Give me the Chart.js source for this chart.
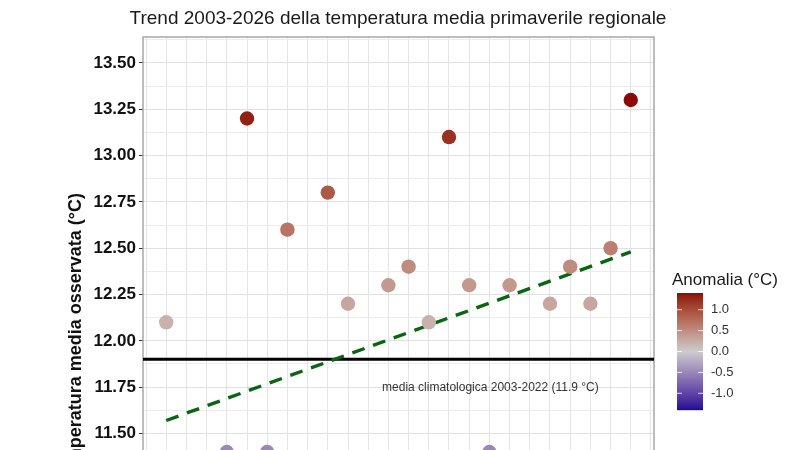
<!DOCTYPE html>
<html>
<head>
<meta charset="utf-8">
<script src="https://cdn.jsdelivr.net/npm/chart.js@4.4.1/dist/chart.umd.min.js"></script>
<style>
html,body{margin:0;padding:0;background:#fff;overflow:hidden;width:800px;height:450px}
#clip{width:800px;height:450px;overflow:hidden;position:relative}
#wrap{width:800px;height:690px;position:absolute;top:0;left:0}
</style>
</head>
<body>
<div id="clip"><div id="wrap"><canvas id="c"></canvas></div></div>
<script>
// ---- data ----
const years = [2003,2004,2005,2006,2007,2008,2009,2010,2011,2012,2013,2014,2015,2016,2017,2018,2019,2020,2021,2022,2023,2024,2025,2026];
const temps = [12.1,10.9,10.5,11.4,13.2,11.4,12.6,11.0,12.8,12.2,10.8,12.3,12.4,12.1,13.1,12.3,11.4,12.3,11.0,12.2,12.4,12.2,12.5,13.3];
const climMean = 11.9;
const trendYears = [2003, 2026];
const trendValues = [11.57, 12.48];
const legendTicks = [1.0, 0.5, 0.0, -0.5, -1.0];
const titleText = 'Trend 2003-2026 della temperatura media primaverile regionale';
const yTitle = 'Temperatura media osservata (°C)';
const annoText = 'media climatologica 2003-2022 (11.9 °C)';
const annoX = 2019.05, annoY = 11.745;
const legendTitle = 'Anomalia (°C)';

const xMin = 2001.85, xMax = 2027.15;
const yMin = 10.385, yMax = 13.64;

// ---- colour scale (gradient2 in Lab) ----
const lowCol = '#1a0c94', midCol = '#cccccc', highCol = '#8b0a05';
function hex2rgb(h){return [parseInt(h.slice(1,3),16),parseInt(h.slice(3,5),16),parseInt(h.slice(5,7),16)];}
function lin(c){c/=255;return c<=0.04045?c/12.92:Math.pow((c+0.055)/1.055,2.4);}
function unlin(c){c=c<=0.0031308?12.92*c:1.055*Math.pow(c,1/2.4)-0.055;return Math.max(0,Math.min(255,Math.round(c*255)));}
function rgb2lab(rgb){
  const r=lin(rgb[0]),g=lin(rgb[1]),b=lin(rgb[2]);
  let X=(0.4124*r+0.3576*g+0.1805*b)/0.95047,Y=(0.2126*r+0.7152*g+0.0722*b),Z=(0.0193*r+0.1192*g+0.9505*b)/1.08883;
  const f=t=>t>0.008856?Math.cbrt(t):7.787*t+16/116;
  const fx=f(X),fy=f(Y),fz=f(Z);
  return [116*fy-16,500*(fx-fy),200*(fy-fz)];
}
function lab2rgb(lab){
  const fy=(lab[0]+16)/116,fx=fy+lab[1]/500,fz=fy-lab[2]/200;
  const fi=t=>t*t*t>0.008856?t*t*t:(t-16/116)/7.787;
  const X=fi(fx)*0.95047,Y=fi(fy),Z=fi(fz)*1.08883;
  const r=3.2406*X-1.5372*Y-0.4986*Z,g=-0.9689*X+1.8758*Y+0.0415*Z,b=0.0557*X-0.2040*Y+1.0570*Z;
  return 'rgb('+unlin(r)+','+unlin(g)+','+unlin(b)+')';
}
const labLow=rgb2lab(hex2rgb(lowCol)),labMid=rgb2lab(hex2rgb(midCol)),labHigh=rgb2lab(hex2rgb(highCol));
const anomalies = temps.map(t=>+(t-climMean).toFixed(3));
const aLo = Math.min(...anomalies), aHi = Math.max(...anomalies);
const ext = Math.max(Math.abs(aLo),Math.abs(aHi));
function colorFor(a){
  let t=a/ext/2+0.5; t=Math.max(0,Math.min(1,t));
  let A,B,u;
  if(t<0.5){A=labLow;B=labMid;u=t/0.5;}else{A=labMid;B=labHigh;u=(t-0.5)/0.5;}
  return lab2rgb([A[0]+(B[0]-A[0])*u,A[1]+(B[1]-A[1])*u,A[2]+(B[2]-A[2])*u]);
}

const isMajor = v => Math.abs(v*4-Math.round(v*4))<1e-6;
const FONT = '"Liberation Sans", Arial, sans-serif';

const extras = {
  id:'extras',
  beforeDatasetsDraw(chart){
    const {ctx,chartArea:a}=chart;
    ctx.save();
    ctx.strokeStyle='#9a9a9a';ctx.lineWidth=1.3;
    ctx.strokeRect(a.left,a.top,a.right-a.left,a.bottom-a.top);
    ctx.restore();
  },
  afterDraw(chart){
    const {ctx,scales}=chart;
    ctx.save();
    // title
    ctx.fillStyle='#1a1a1a';
    ctx.font='19px '+FONT;
    ctx.textAlign='center';ctx.textBaseline='middle';
    ctx.fillText(titleText,398,19);
    // annotation
    ctx.fillStyle='#333';
    ctx.font='12px '+FONT;
    ctx.fillText(annoText,scales.x.getPixelForValue(annoX),scales.y.getPixelForValue(annoY));
    // colour bar legend
    const bx=677,bw=26,by=293,bh=117;
    for(let i=0;i<bh;i++){
      const a=aHi-(i+0.5)/bh*(aHi-aLo);
      ctx.fillStyle=colorFor(a);
      ctx.fillRect(bx,by+i,bw,1.2);
    }
    ctx.fillStyle='#1a1a1a';
    ctx.font='17px '+FONT;
    ctx.textAlign='left';ctx.textBaseline='middle';
    ctx.fillText(legendTitle,672,280);
    ctx.font='13px '+FONT;
    ctx.fillStyle='#333';
    legendTicks.forEach(v=>{
      const y=by+(aHi-v)/(aHi-aLo)*bh;
      ctx.strokeStyle='rgba(255,255,255,0.8)';ctx.lineWidth=1;
      ctx.beginPath();ctx.moveTo(bx,y);ctx.lineTo(bx+5,y);ctx.moveTo(bx+bw-5,y);ctx.lineTo(bx+bw,y);ctx.stroke();
      ctx.fillText(v.toFixed(1),711,y);
    });
    ctx.restore();
  }
};

new Chart(document.getElementById('c'),{
  type:'scatter',
  data:{
    datasets:[
      {
        data:years.map((y,i)=>({x:y,y:temps[i]})),
        pointRadius:7.2,pointHoverRadius:7.2,borderWidth:0,
        backgroundColor:anomalies.map(colorFor),
        order:0
      },
      {
        data:trendYears.map((y,i)=>({x:y,y:trendValues[i]})),
        showLine:true,pointRadius:0,borderColor:'#0a6414',borderWidth:3.4,
        borderDash:[13,9],order:1
      },
      {
        data:[{x:xMin,y:climMean},{x:xMax,y:climMean}],
        showLine:true,pointRadius:0,borderColor:'#000',borderWidth:3,order:2
      }
    ]
  },
  options:{
    responsive:true,maintainAspectRatio:false,animation:false,
    layout:{padding:{left:0,right:146,top:37,bottom:0}},
    plugins:{
      legend:{display:false},tooltip:{enabled:false},title:{display:false}
    },
    scales:{
      x:{
        type:'linear',min:xMin,max:xMax,
        border:{display:false},
        grid:{color:'#e4e4e4',lineWidth:1,tickLength:4,
          tickColor:c=>(c.tick&&c.tick.value%5===0)?'#333':'rgba(0,0,0,0)'},
        ticks:{stepSize:1,includeBounds:false,autoSkip:false,maxRotation:0,maxTicksLimit:100,
          color:'#000',font:{family:FONT,size:16,weight:'bold'},
          callback:v=>v%5===0?String(v):''},
        afterFit:s=>{s.height=50;}
      },
      y:{
        type:'linear',min:yMin,max:yMax,
        border:{display:false},
        grid:{lineWidth:1,tickLength:4,
          color:c=>(c.tick&&isMajor(c.tick.value))?'#e0e0e0':'#ececec',
          tickColor:c=>(c.tick&&isMajor(c.tick.value))?'#333':'rgba(0,0,0,0)'},
        ticks:{stepSize:0.125,includeBounds:false,autoSkip:false,maxTicksLimit:100,padding:3,
          color:'#111',font:{family:FONT,size:17,weight:'bold'},
          callback:v=>isMajor(v)?v.toFixed(2):''},
        title:{display:true,text:yTitle,color:'#111',padding:{top:65,bottom:0},
          font:{family:FONT,size:18,weight:'bold'}},
        afterFit:s=>{s.width=143;}
      }
    }
  },
  plugins:[extras]
});
</script>
</body>
</html>
